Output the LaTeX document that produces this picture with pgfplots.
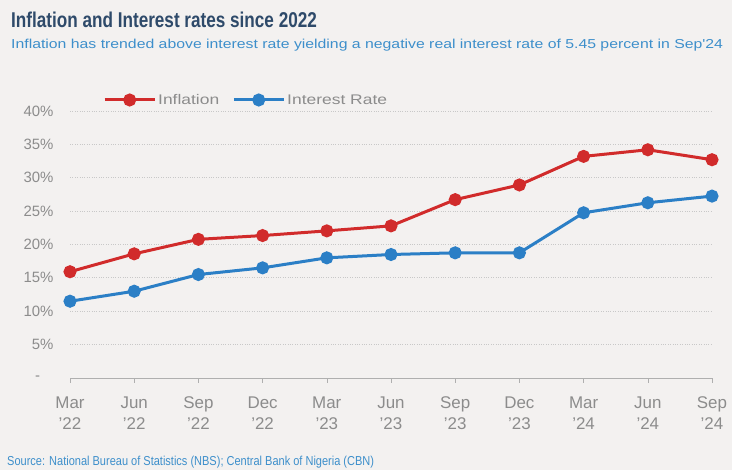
\documentclass[border=0pt]{standalone}
\usepackage{pgfplots}
\pgfplotsset{compat=1.18}
\usepackage{fontspec}
\setmainfont{Liberation Sans}
\newfontfamily\condfont{Liberation Sans}[FakeStretch=0.8]
\newfontfamily\srcfont{Liberation Sans}[FakeStretch=0.85]
\newfontfamily\widefont{Liberation Sans}[FakeStretch=1.22]
\newfontfamily\legfont{Liberation Sans}[FakeStretch=1.25]
\definecolor{bgc}{HTML}{F3F1F0}
\definecolor{infl}{HTML}{D12B2B}
\definecolor{intr}{HTML}{2B7FC6}
\definecolor{titlec}{HTML}{2E4A6A}
\definecolor{subc}{HTML}{3D8FCB}
\definecolor{labc}{HTML}{8C8C8C}
\definecolor{gridc}{HTML}{C8C8C8}
\begin{document}
\begin{tikzpicture}[x=1bp,y=1bp]
\fill[bgc] (0,0) rectangle (732,470);
\node[anchor=west,text=titlec,font=\condfont\fontsize{21.5}{23}\selectfont\bfseries,inner sep=0] at (11,450) {Inflation and Interest rates since 2022};
\node[anchor=west,text=subc,font=\widefont\fontsize{13}{15}\selectfont,inner sep=0] at (11,425) {Inflation has trended above interest rate yielding a negative real interest rate of 5.45 percent in Sep'24};
\node[anchor=west,text=subc,font=\srcfont\fontsize{13}{15}\selectfont,inner sep=0] at (7,8) {Source: National Bureau of Statistics (NBS); Central Bank of Nigeria (CBN)};
\begin{axis}[
  at={(70bp,92bp)}, anchor=south west,
  scale only axis, width=642bp, height=267bp,
  xmin=0, xmax=10, ymin=0, ymax=40,
  axis x line=bottom, axis y line=left,
  x axis line style={draw=labc!70,-},
  y axis line style={draw=none},
  xtick={0,...,10},
  xticklabels={{Mar\\’22},{Jun\\’22},{Sep\\’22},{Dec\\’22},{Mar\\’23},{Jun\\’23},{Sep\\’23},{Dec\\’23},{Mar\\’24},{Jun\\’24},{Sep\\’24}},
  xticklabel style={align=center,text=labc,font=\fontsize{17}{21}\selectfont,yshift=-10bp},
  xtick style={draw=labc!70,line width=0.6pt},
  tick align=outside,
  major tick length=5bp,
  ytick={0,5,...,40},
  yticklabels={{-\hphantom{\%}},5\%,10\%,15\%,20\%,25\%,30\%,35\%,40\%},
  yticklabel style={text=labc,font=\fontsize{15}{17}\selectfont,xshift=-8bp},
  ytick style={draw=none},
  ymajorgrids,
  grid style={gridc,dotted,line width=0.8pt},
  /pgf/number format/assume math mode=true,
  legend columns=2,
  legend style={draw=none,fill=none,at={(0.0514,1.0)},anchor=west,yshift=11bp,inner xsep=0pt,inner ysep=0pt,font=\legfont\fontsize{14}{16}\selectfont,text=labc,/tikz/every even column/.append style={column sep=11bp}},
  legend image code/.code={\draw[#1] (0bp,0bp) -- (50bp,0bp); \fill[#1] (25bp,0bp) circle (5bp);},
  clip=false,
]
\addplot[infl,line width=3bp,mark=*,mark size=5bp] coordinates {
(0,15.92) (1,18.60) (2,20.77) (3,21.34) (4,22.04) (5,22.79) (6,26.72) (7,28.92) (8,33.20) (9,34.19) (10,32.70)};
\addlegendentry{Inflation}
\addplot[intr,line width=3bp,mark=*,mark size=5bp] coordinates {
(0,11.5) (1,13.0) (2,15.5) (3,16.5) (4,18.0) (5,18.5) (6,18.75) (7,18.75) (8,24.75) (9,26.25) (10,27.25)};
\addlegendentry{Interest Rate}
\end{axis}
\end{tikzpicture}
\end{document}
